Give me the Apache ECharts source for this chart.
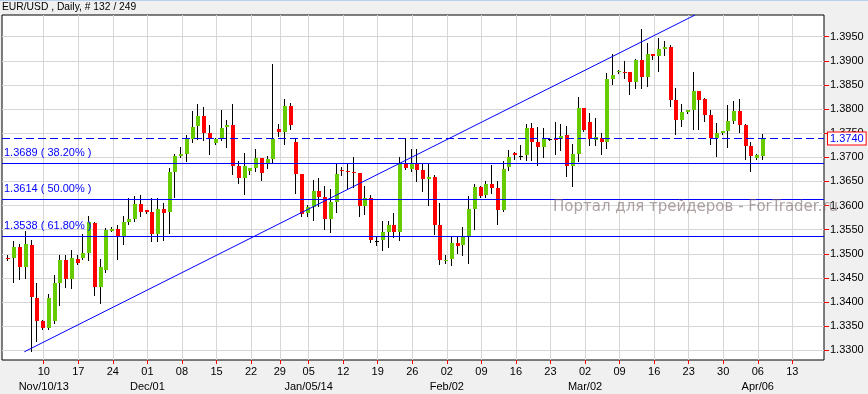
<!DOCTYPE html>
<html>
<head>
<meta charset="utf-8">
<script src="https://cdn.jsdelivr.net/npm/echarts@6/dist/echarts.min.js"></script>
<style>
html,body{margin:0;padding:0;background:#f0f0f0;}
#chart{width:868px;height:394px;}
</style>
</head>
<body>
<div id="chart"></div>
<script>
// ---- data ----
const title = 'EUR/USD , Daily, # 132 / 249';
const opens = [1.3492,1.3492,1.3515,1.3472,1.3519,1.3409,1.3361,1.3346,1.3360,1.3439,1.3487,1.3447,1.3490,1.3492,1.3502,1.3564,1.3432,1.3466,1.3548,1.3552,1.3535,1.3567,1.3572,1.3603,1.3590,1.3586,1.3542,1.3593,1.3586,1.3670,1.3702,1.3706,1.3737,1.3765,1.3785,1.3750,1.3729,1.3739,1.3763,1.3768,1.3682,1.3657,1.3672,1.3678,1.3698,1.3687,1.3696,1.3758,1.3752,1.3807,1.3732,1.3665,1.3584,1.3598,1.3631,1.3618,1.3572,1.3607,1.3673,1.3671,1.3669,1.3667,1.3600,1.3615,1.3527,1.3528,1.3546,1.3559,1.3545,1.3689,1.3675,1.3689,1.3673,1.3656,1.3660,1.3559,1.3486,1.3490,1.3523,1.3518,1.3535,1.3593,1.3638,1.3621,1.3645,1.3636,1.3590,1.3679,1.3709,1.3703,1.3705,1.3760,1.3732,1.3722,1.3737,1.3737,1.3737,1.3746,1.3682,1.3706,1.3802,1.3774,1.3736,1.3741,1.3732,1.3862,1.3876,1.3877,1.3876,1.3857,1.3902,1.3866,1.3914,1.3909,1.3925,1.3929,1.3818,1.3778,1.3794,1.3798,1.3837,1.3821,1.3787,1.3741,1.3751,1.3754,1.3775,1.3796,1.3768,1.3723,1.3699,1.3703];
const closes = [1.3490,1.3515,1.3472,1.3520,1.3411,1.3360,1.3346,1.3408,1.3439,1.3487,1.3447,1.3492,1.3482,1.3502,1.3566,1.3432,1.3472,1.3550,1.3552,1.3535,1.3567,1.3572,1.3603,1.3586,1.3587,1.3542,1.3593,1.3585,1.3669,1.3703,1.3706,1.3737,1.3763,1.3785,1.3751,1.3739,1.3739,1.3761,1.3768,1.3682,1.3657,1.3682,1.3677,1.3698,1.3667,1.3696,1.3739,1.3752,1.3807,1.3768,1.3665,1.3583,1.3598,1.3631,1.3618,1.3572,1.3607,1.3665,1.3671,1.3669,1.3667,1.3600,1.3615,1.3528,1.3527,1.3546,1.3559,1.3545,1.3687,1.3677,1.3687,1.3673,1.3655,1.3660,1.3559,1.3487,1.3488,1.3523,1.3517,1.3535,1.3593,1.3638,1.3620,1.3645,1.3636,1.3590,1.3675,1.3700,1.3704,1.3703,1.3760,1.3732,1.3722,1.3737,1.3737,1.3736,1.3745,1.3682,1.3706,1.3802,1.3756,1.3737,1.3743,1.3732,1.3862,1.3871,1.3878,1.3876,1.3857,1.3902,1.3866,1.3914,1.3910,1.3925,1.3929,1.3818,1.3778,1.3794,1.3798,1.3837,1.3818,1.3787,1.3741,1.3751,1.3754,1.3775,1.3796,1.3768,1.3723,1.3702,1.3705,1.3740];
const lows = [1.3487,1.3441,1.3447,1.3449,1.3298,1.3319,1.3345,1.3344,1.3356,1.3394,1.3432,1.3430,1.3478,1.3490,1.3487,1.3415,1.3399,1.3463,1.3547,1.3489,1.3521,1.3562,1.3568,1.3579,1.3585,1.3526,1.3526,1.3528,1.3544,1.3618,1.3701,1.3693,1.3732,1.3737,1.3736,1.3706,1.3727,1.3735,1.3721,1.3665,1.3647,1.3624,1.3665,1.3672,1.3653,1.3678,1.3691,1.3744,1.3727,1.3758,1.3627,1.3578,1.3579,1.3570,1.3600,1.3552,1.3546,1.3586,1.3663,1.3634,1.3638,1.3579,1.3583,1.3525,1.3518,1.3507,1.3514,1.3535,1.3529,1.3675,1.3672,1.3651,1.3631,1.3602,1.3542,1.3478,1.3480,1.3476,1.3502,1.3497,1.3480,1.3552,1.3618,1.3618,1.3627,1.3561,1.3588,1.3674,1.3697,1.3696,1.3694,1.3694,1.3684,1.3701,1.3735,1.3706,1.3715,1.3662,1.3641,1.3693,1.3754,1.3725,1.3725,1.3706,1.3720,1.3851,1.3874,1.3864,1.3832,1.3844,1.3844,1.3847,1.3903,1.3878,1.3912,1.3807,1.3748,1.3765,1.3792,1.3759,1.3758,1.3775,1.3727,1.3703,1.3749,1.3721,1.3772,1.3752,1.3697,1.3672,1.3696,1.3697];
const highs = [1.3497,1.3526,1.3521,1.3548,1.3529,1.3439,1.3362,1.3416,1.3457,1.3498,1.3497,1.3507,1.3497,1.3542,1.3579,1.3566,1.3490,1.3553,1.3555,1.3559,1.3579,1.3615,1.3620,1.3622,1.3591,1.3615,1.3615,1.3605,1.3678,1.3706,1.3722,1.3746,1.3796,1.3811,1.3804,1.3768,1.3741,1.3799,1.3778,1.3811,1.3693,1.3708,1.3678,1.3717,1.3699,1.3702,1.3893,1.3770,1.3820,1.3813,1.3741,1.3666,1.3601,1.3653,1.3657,1.3641,1.3634,1.3688,1.3679,1.3688,1.3700,1.3668,1.3641,1.3622,1.3535,1.3568,1.3568,1.3584,1.3700,1.3739,1.3718,1.3717,1.3689,1.3686,1.3663,1.3605,1.3497,1.3536,1.3537,1.3555,1.3620,1.3645,1.3640,1.3652,1.3684,1.3651,1.3692,1.3715,1.3712,1.3725,1.3770,1.3772,1.3763,1.3760,1.3739,1.3773,1.3770,1.3765,1.3727,1.3826,1.3803,1.3792,1.3782,1.3750,1.3875,1.3914,1.3880,1.3899,1.3877,1.3903,1.3967,1.3938,1.3915,1.3948,1.3942,1.3933,1.3844,1.3811,1.3799,1.3876,1.3838,1.3823,1.3798,1.3772,1.3755,1.3809,1.3816,1.3821,1.3769,1.3732,1.3706,1.3748];

// trading days (Sun-Fri, Dec 25 and Jan 1 closed), index = position on the x axis
const firstDay = '2013-11-03';
const holidays = ['2013-12-25', '2014-01-01'];
const tickDates = ['2013-11-10','2013-11-17','2013-11-24','2013-12-01','2013-12-08','2013-12-15','2013-12-22','2013-12-29','2014-01-05','2014-01-12','2014-01-19','2014-01-26','2014-02-02','2014-02-09','2014-02-16','2014-02-23','2014-03-02','2014-03-09','2014-03-16','2014-03-23','2014-03-30','2014-04-06','2014-04-13'];
const tickDayLabels = ['10','17','24','01','08','15','22','29','05','12','19','26','02','09','16','23','02','09','16','23','30','06','13'];
const tickMonthLabels = ['Nov/10/13','','','Dec/01','','','','','Jan/05/14','','','','Feb/02','','','','Mar/02','','','','','Apr/06',''];
const yTickValues = [1.3300,1.3350,1.3400,1.3450,1.3500,1.3550,1.3600,1.3650,1.3700,1.3750,1.3800,1.3850,1.3900,1.3950];

const fibLevels = [1.3689, 1.3614, 1.3538];
const fibPercents = ['38.20%', '50.00%', '61.80%'];
const lastPrice = 1.3740;
const trendIdx = [2.92, 119.4];
const trendPrice = [1.3297, 1.3995];
const watermark = 'Портал для трейдеров - ForTrader.ru';

// ---- build ----
function buildDates(count) {
  const out = [];
  const d = new Date(firstDay + 'T12:00:00Z');
  while (out.length < count) {
    const s = d.toISOString().slice(0, 10);
    if (d.getUTCDay() !== 6 && holidays.indexOf(s) < 0) out.push(s);
    d.setUTCDate(d.getUTCDate() + 1);
  }
  return out;
}
const dates = buildDates(150);
const TICK_SHIFT = 0.3;
const tickPos = tickDates.map(t => dates.indexOf(t) + TICK_SHIFT);
function tickLabel(v) {
  let k = -1, best = 1e9;
  tickPos.forEach((p, j) => { const dd = Math.abs(p - v); if (dd < best) { best = dd; k = j; } });
  if (k < 0) return '';
  return tickDayLabels[k] + '\n' + tickMonthLabels[k];
}

const FONT = '"Liberation Sans", Arial, sans-serif';
const BLUE = '#0000ff';
const UP = '#66cc00', DOWN = '#ff0000';

const candles = opens.map((o, i) => [i, o, closes[i], lows[i], highs[i]]);
function renderCandle(params, api) {
  const i = api.value(0), o = api.value(1), c = api.value(2), l = api.value(3), h = api.value(4);
  const pO = api.coord([i, o]), pC = api.coord([i, c]), pL = api.coord([i, l]), pH = api.coord([i, h]);
  const cx = Math.round(pO[0]);
  const top = Math.round(Math.min(pO[1], pC[1]));
  const bot = Math.round(Math.max(pO[1], pC[1]));
  const color = c > o ? UP : (c < o ? DOWN : '#000000');
  return {
    type: 'group',
    children: [
      { type: 'line', shape: { x1: cx + 0.5, y1: Math.round(pH[1]), x2: cx + 0.5, y2: Math.round(pL[1]) + 1 },
        style: { stroke: '#000', lineWidth: 1 } },
      { type: 'rect', shape: { x: cx - 1, y: top, width: 4, height: Math.max(1, bot - top) },
        style: { fill: color } }
    ]
  };
}

// horizontal levels: fibonacci (solid, labelled at left) + last price (dashed, boxed label on the axis)
const levels = fibLevels.map((v, k) => [v, k]).concat([[lastPrice, -1]]);
function renderLevel(params, api) {
  const v = api.value(0), k = api.value(1);
  const cs = params.coordSys;
  const y = Math.round(api.coord([0, v])[1]) + 0.5;
  const isPrice = k < 0;
  const line = {
    type: 'line',
    shape: { x1: cs.x, y1: y, x2: cs.x + cs.width, y2: y },
    style: { stroke: BLUE, lineWidth: 1, lineDash: isPrice ? [8, 4] : null }
  };
  const label = isPrice ? {
    type: 'text', z2: 10,
    style: {
      text: v.toFixed(4), x: cs.x + cs.width + 4, y: y, verticalAlign: 'middle', align: 'left',
      font: '11px ' + FONT, fill: BLUE,
      backgroundColor: '#ffffff', borderColor: '#ff0000', borderWidth: 1, padding: [1, 2, 0, 2]
    }
  } : {
    type: 'text',
    style: {
      text: v.toFixed(4) + ' ( ' + fibPercents[k] + ' )', x: cs.x + 2, y: y - 5,
      verticalAlign: 'bottom', align: 'left', font: '11px ' + FONT, fill: BLUE
    }
  };
  return { type: 'group', children: [line, label] };
}

const chart = echarts.init(document.getElementById('chart'), null, { renderer: 'canvas', devicePixelRatio: 1 });
chart.setOption({
  animation: false,
  backgroundColor: '#f0f0f0',
  textStyle: { fontFamily: FONT },
  grid: { left: 2, top: 15, right: 44, bottom: 32, show: true, backgroundColor: '#ffffff', borderColor: '#000000', borderWidth: 1 },
  xAxis: {
    type: 'value', min: -0.95, max: 141.8,
    axisLine: { show: false, onZero: false },
    axisTick: { show: true, customValues: tickPos, length: 4, lineStyle: { color: '#ff0000' } },
    axisLabel: { show: true, customValues: tickPos, formatter: tickLabel, color: '#000', fontSize: 11, lineHeight: 15, margin: 4, fontFamily: FONT },
    splitLine: { show: true, lineStyle: { color: '#d6d6d6', width: 1 } }
  },
  yAxis: {
    type: 'value', position: 'right', min: 1.3280, max: 1.3995,
    axisLine: { show: false, onZero: false },
    axisTick: { show: true, customValues: yTickValues, length: 5, lineStyle: { color: '#ff0000' } },
    axisLabel: { show: true, customValues: yTickValues, formatter: v => v.toFixed(4), color: '#000', fontSize: 11, margin: 6, fontFamily: FONT },
    splitLine: { show: true, lineStyle: { color: '#d6d6d6', width: 1 } }
  },
  series: [
    {
      type: 'custom', name: 'EUR/USD', renderItem: renderCandle, data: candles,
      encode: { x: 0, y: [1, 2, 3, 4] }, clip: true, silent: true, z: 3
    },
    {
      type: 'line', name: 'trend', data: trendIdx.map((x, k) => [x, trendPrice[k]]),
      symbol: 'none', clip: true, silent: true, z: 4,
      lineStyle: { color: BLUE, width: 1 }
    },
    {
      type: 'custom', name: 'levels', renderItem: renderLevel, data: levels,
      encode: { y: 0 }, clip: false, silent: true, z: 5
    }
  ],
  graphic: [
    { type: 'rect', left: 0, top: 0, shape: { width: 868, height: 1 }, style: { fill: '#b9d1ea' }, silent: true },
    { type: 'text', left: 2, top: 2, style: { text: title, font: '10.3px ' + FONT, fill: '#000' }, silent: true },
    { type: 'text', x: 553, y: 207, z: 100, style: { text: watermark, font: '15px "DejaVu Sans", Verdana, sans-serif', fill: 'rgba(120,100,100,0.6)', verticalAlign: 'middle' }, silent: true }
  ]
});
</script>
</body>
</html>
